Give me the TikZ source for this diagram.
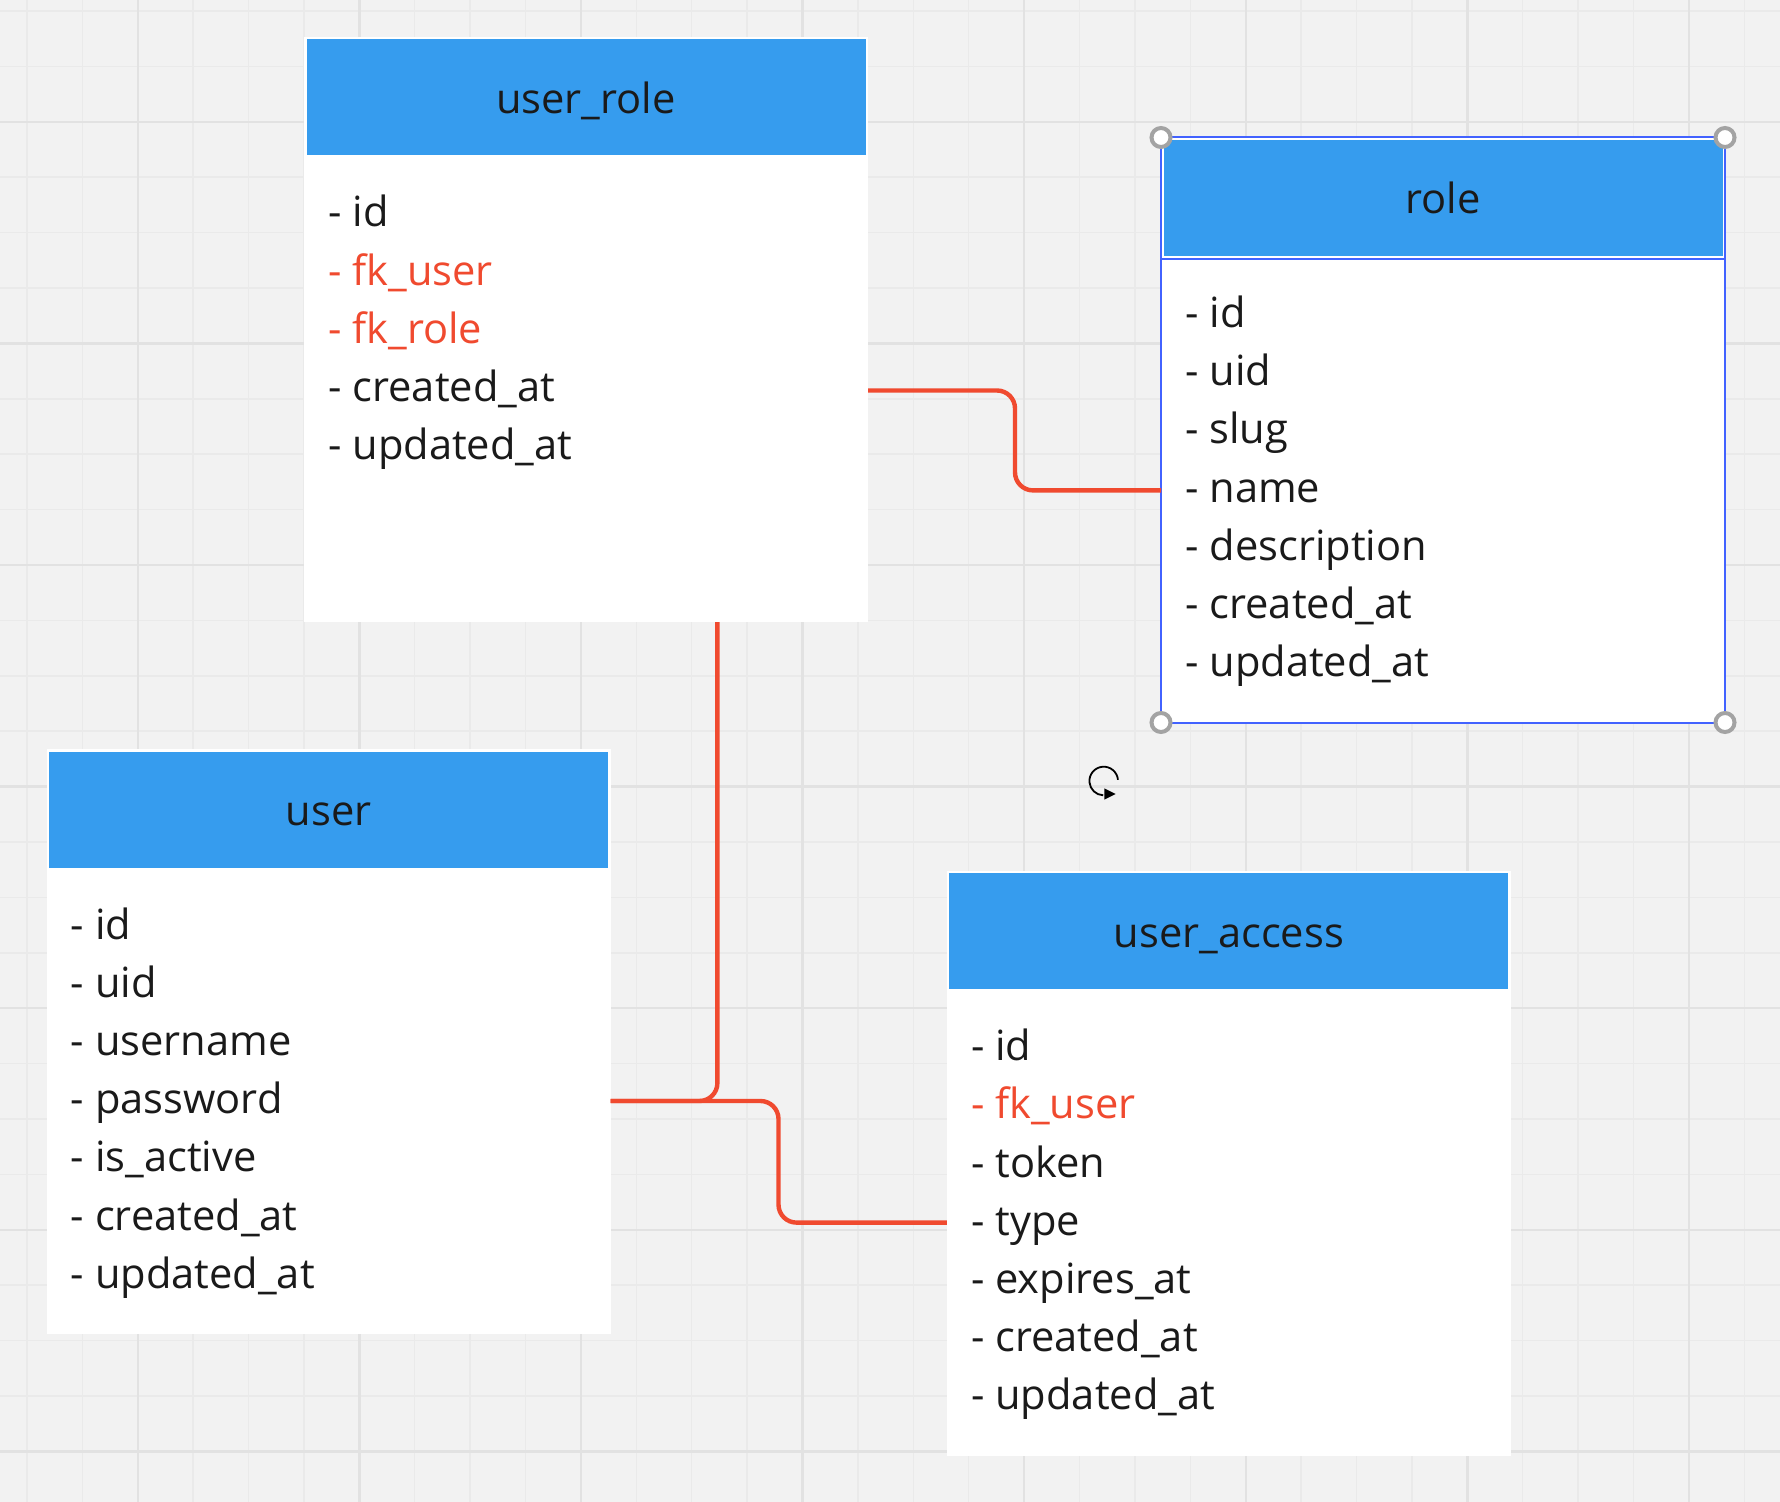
\documentclass[tikz,border=0pt]{standalone}
\usepackage{fontspec}
\setmainfont{Open Sans}
\usetikzlibrary{arrows.meta}
\definecolor{bg}{HTML}{F2F2F2}
\definecolor{gridminor}{HTML}{EAEAEA}
\definecolor{gridmajor}{HTML}{E2E2E2}
\definecolor{hdr}{HTML}{369CEE}
\definecolor{fkred}{HTML}{F04A2F}
\definecolor{txt}{HTML}{1A1A1A}
\definecolor{selblue}{HTML}{4262FF}
\definecolor{handlegrey}{HTML}{A3A3A3}
\newcommand\erdcard[4]{%
  \node[card] (#1) at (#2,#3) {};
  \node[hdrbox] (#1-h) at ([yshift=-1.25pt]#1.north) {};
  \node[ttl] (#1-t) at ([yshift=-38.2pt]#1.north) {#4};}
\newcommand\erdfields[2]{%
  \foreach [count=\i] \ftxt/\fcol in {#2}{%
    \pgfmathsetmacro\dy{-95-29.1*(\i-1)}%
    \node[fld, text=\fcol] (#1-f\i) at ([xshift=12pt,yshift=\dy pt]#1.north west) {\ftxt};}}
\begin{document}
\begin{tikzpicture}[x=0.5pt,y=-0.5pt,
  card/.style={fill=white, draw=none, minimum width=282pt, minimum height=292.5pt, inner sep=0pt, outer sep=0pt},
  hdrbox/.style={fill=hdr, draw=none, minimum width=279.5pt, minimum height=58pt, inner sep=0pt, outer sep=0pt, anchor=north},
  ttl/.style={font=\fontsize{20.8pt}{24pt}\selectfont, text=txt, anchor=base, inner sep=0pt},
  fld/.style={font=\fontsize{20.8pt}{24pt}\selectfont, anchor=base west, inner sep=0pt},
  rel/.style={draw=fkred, line width=2.2pt, rounded corners=9pt},
  handle/.style={circle, fill=white, draw=handlegrey, line width=2pt, minimum size=9.5pt, inner sep=0pt},
]
\fill[bg] (0,0) rectangle (1780,1502);
\useasboundingbox (0,0) rectangle (1780,1502);
% grid
\foreach \k in {0,...,31} \draw[gridminor, line width=0.75pt] ({26.9+55.4*\k},0) -- ({26.9+55.4*\k},1502);
\foreach \k in {0,...,26} \draw[gridminor, line width=0.75pt] (0,{11+55.4*\k}) -- (1780,{11+55.4*\k});
\foreach \k in {2,6,...,30} \draw[gridmajor, line width=1.2pt] ({26.9+55.4*\k},0) -- ({26.9+55.4*\k},1502);
\foreach \k in {2,6,...,26} \draw[gridmajor, line width=1.2pt] (0,{11+55.4*\k}) -- (1780,{11+55.4*\k});

% cards
\erdcard{ur}{586}{329.5}{user\_role}
\erdfields{ur}{- id/txt, - fk\_user/fkred, - fk\_role/fkred, - created\_at/txt, - updated\_at/txt}

\erdcard{role}{1443}{430}{role}
\erdfields{role}{- id/txt, - uid/txt, - slug/txt, - name/txt, - description/txt, - created\_at/txt, - updated\_at/txt}

\erdcard{user}{328.5}{1041.5}{user}
\erdfields{user}{- id/txt, - uid/txt, - username/txt, - password/txt, - is\_active/txt, - created\_at/txt, - updated\_at/txt}

\erdcard{ua}{1228.8}{1163.2}{user\_access}
\erdfields{ua}{- id/txt, - fk\_user/fkred, - token/txt, - type/txt, - expires\_at/txt, - created\_at/txt, - updated\_at/txt}

% selection of role
\draw[selblue, line width=1pt] (role.north west) rectangle (role.south east);
\draw[selblue, line width=1pt] (role.west |- 0,259) -- (role.east |- 0,259);
\node[handle] (h1) at (role.north west) {};
\node[handle] (h2) at (role.north east) {};
\node[handle] (h3) at (role.south west) {};
\node[handle] (h4) at (role.south east) {};

% relations
\draw[rel] (ur.east |- 0,390.5) -- (1015,390.5) -- (1015,490.4) -- (role.west |- 0,490.4);
\draw[rel] (ur.south -| 717.4,0) -- (717.4,1101) -- (user.east |- 0,1101);
\draw[rel] (user.east |- 0,1101) -- (778.5,1101) -- (778.5,1222.6) -- (ua.west |- 0,1222.6);

% rotate cursor
\coordinate (rot) at (1103.7,781);
\draw[black, line width=0.9pt] ([shift={(5:7.15pt)}]rot) arc[start angle=5, end angle=268, radius=7.15pt];
\fill[black] (1104.3,788.3) -- (1115.7,794) -- (1104.3,799.7) -- cycle;
\end{tikzpicture}
\end{document}
